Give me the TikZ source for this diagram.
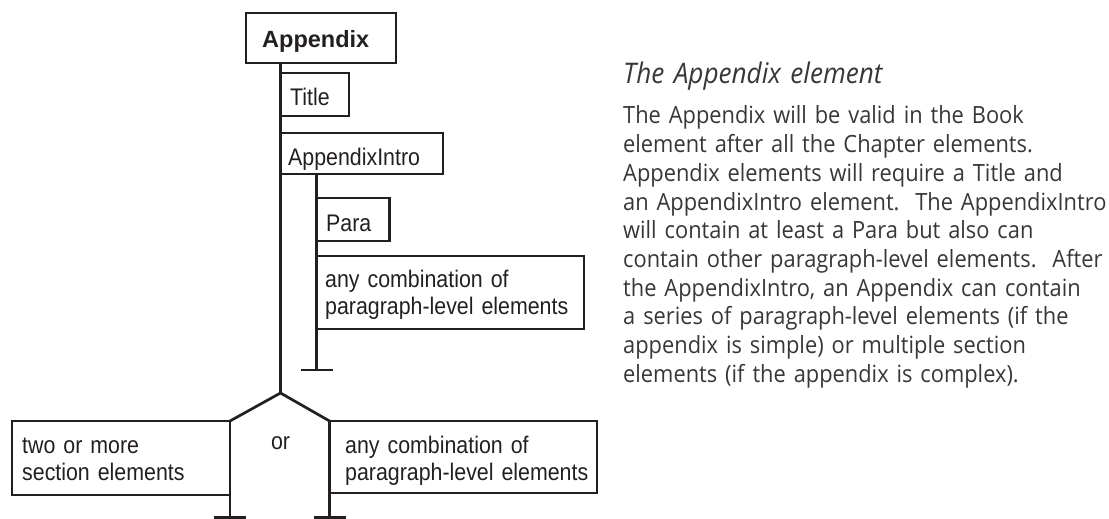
\documentclass[tikz,border=0pt]{standalone}
\usepackage{fontspec}
\setmainfont{Liberation Sans}
\newfontfamily\diagfont{Liberation Sans}[FakeStretch=0.89]
\newfontfamily\bodyfont{Open Sans}[FakeStretch=0.92]
\definecolor{inkblack}{RGB}{35,31,32}
\definecolor{bodygray}{RGB}{55,55,55}
\newlength\linefour
\newlength\headwd
\newsavebox\measurebox
\begin{document}
\sbox\measurebox{\bodyfont\fontsize{20pt}{20pt}\selectfont an AppendixIntro element.\ \ The AppendixIntro}%
\setlength\linefour{\wd\measurebox}%
\sbox\measurebox{\bodyfont\itshape\fontsize{20pt}{20pt}\selectfont The Appendix element}%
\setlength\headwd{\wd\measurebox}%
\pgfmathsetmacro\bodysize{20*472/\linefour}%
\pgfmathsetmacro\headsize{20*254/\headwd}%
\begin{tikzpicture}[x=1pt,y=-1pt,
  ln/.style={line width=2.7pt, draw=inkblack},
  boxframe/.style={ln, rectangle, inner sep=0pt, outer sep=0pt, anchor=north west},
  dtext/.style={anchor=base west, inner sep=0pt, text=inkblack, text width=300pt, align=left,
    font=\diagfont\fontsize{24pt}{27.5pt}\selectfont},
  btext/.style={anchor=base west, inner sep=0pt, text=bodygray, text width=700pt, align=left}]
\useasboundingbox (0,0) rectangle (1109,519);
% boxes
\node[boxframe, minimum width=150pt, minimum height=50pt] (appbox) at (246,13) {};
\node[boxframe, minimum width=68.5pt, minimum height=43pt] (titlebox) at (280.5,73) {};
\node[boxframe, minimum width=162.5pt, minimum height=41pt] (introbox) at (280.5,133) {};
\node[boxframe, minimum width=73pt, minimum height=43pt] (parabox) at (316.5,198) {};
\node[boxframe, minimum width=267.5pt, minimum height=73pt] (combobox) at (316.5,256) {};
\node[boxframe, minimum width=218pt, minimum height=74pt] (sectbox) at (12,421) {};
\node[boxframe, minimum width=267.5pt, minimum height=72pt] (paragbox) at (329.5,421) {};
% texts
\node[anchor=base west, inner sep=0pt, text=inkblack, font=\bfseries\fontsize{23.5pt}{27pt}\selectfont] (apptext) at (262,48) {Appendix};
\node[dtext] (titletext) at (290,106) {Title};
\node[dtext] (introtext) at (288,165.5) {AppendixIntro};
\node[dtext] (paratext) at (326,231.5) {Para};
\node[dtext] (combotext) at (325,287) {any combination of\\paragraph-level elements};
\node[dtext] (secttext) at (22,453) {two or more\\section elements};
\node[dtext] (paragtext) at (345,453) {any combination of\\paragraph-level elements};
\node[anchor=base, inner sep=0pt, text=inkblack, font=\diagfont\fontsize{24pt}{27pt}\selectfont] (ortext) at (280.5,449) {or};
% connectors
\coordinate (apex) at (280.5,393);
\coordinate (subend) at (316.5,370);
\coordinate (sectend) at (230,517.5);
\coordinate (paragend) at (329.5,517.5);
\draw[ln] (appbox.south -| titlebox.west) -- (apex);
\draw[ln, line join=miter] (sectbox.north east) -- (apex) -- (paragbox.north west);
\draw[ln] (introbox.south -| parabox.west) -- (subend);
\draw[ln] (subend) ++(-16,0) -- ++(32,0);
\draw[ln] (sectbox.north east) -- (sectend);
\draw[ln] (sectend) ++(-16,0) -- ++(32,0);
\draw[ln] (paragbox.north west) -- (paragend);
\draw[ln] (paragend) ++(-16,0) -- ++(32,0);
% description
\node[btext, font=\bodyfont\itshape\fontsize{\headsize pt}{28.7pt}\selectfont] (heading) at (623,84) {The Appendix element};
\node[btext, font=\bodyfont\fontsize{\bodysize pt}{28.7pt}\selectfont] (body) at (623,124) {The Appendix will be valid in the Book\\
element after all the Chapter elements.\\
Appendix elements will require a Title and\\
an AppendixIntro element.\ \ The AppendixIntro\\
will contain at least a Para but also can\\
contain other paragraph-level elements.\ \ After\\
the AppendixIntro, an Appendix can contain\\
a series of paragraph-level elements (if the\\
appendix is simple) or multiple section\\
elements (if the appendix is complex).};
\end{tikzpicture}
\end{document}
